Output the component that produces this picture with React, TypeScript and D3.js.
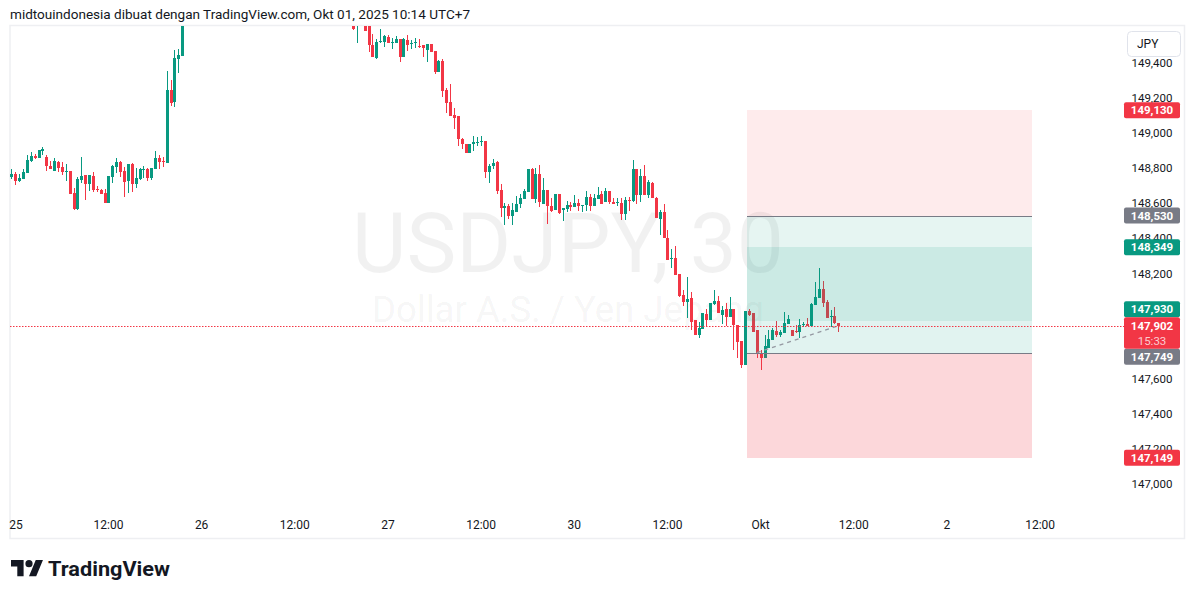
import React from 'react';
import * as d3 from 'd3';

const headerText = 'midtouindonesia dibuat dengan TradingView.com, Okt 01, 2025 10:14 UTC+7';
const symbolText = 'USDJPY, 30';
const symbolDesc = 'Dollar A.S. / Yen Jepang';
const currencyLabel = 'JPY';
const brandText = 'TradingView';

// bar index of the first candle in the list
const firstBarIndex = -1;
// [open, high, low, close]
const candles: [number, number, number, number][] = [
  [148.751, 148.795, 148.738, 148.770],
  [148.768, 148.776, 148.705, 148.728],
  [148.726, 148.768, 148.721, 148.743],
  [148.739, 148.795, 148.739, 148.778],
  [148.774, 148.876, 148.774, 148.846],
  [148.840, 148.893, 148.836, 148.869],
  [148.871, 148.880, 148.852, 148.859],
  [148.859, 148.904, 148.859, 148.903],
  [148.897, 148.922, 148.874, 148.909],
  [148.865, 148.874, 148.785, 148.814],
  [148.814, 148.842, 148.796, 148.796],
  [148.785, 148.856, 148.785, 148.840],
  [148.836, 148.842, 148.776, 148.804],
  [148.808, 148.836, 148.761, 148.778],
  [148.779, 148.823, 148.728, 148.785],
  [148.783, 148.784, 148.654, 148.654],
  [148.660, 148.688, 148.563, 148.567],
  [148.567, 148.751, 148.563, 148.738],
  [148.734, 148.865, 148.717, 148.755],
  [148.759, 148.762, 148.618, 148.711],
  [148.711, 148.762, 148.671, 148.759],
  [148.755, 148.778, 148.665, 148.675],
  [148.679, 148.698, 148.664, 148.675],
  [148.675, 148.682, 148.654, 148.654],
  [148.660, 148.682, 148.603, 148.603],
  [148.603, 148.756, 148.603, 148.755],
  [148.751, 148.819, 148.717, 148.812],
  [148.808, 148.861, 148.774, 148.835],
  [148.835, 148.840, 148.751, 148.778],
  [148.783, 148.808, 148.637, 148.721],
  [148.728, 148.827, 148.660, 148.823],
  [148.825, 148.829, 148.665, 148.711],
  [148.711, 148.802, 148.688, 148.743],
  [148.739, 148.802, 148.732, 148.796],
  [148.791, 148.814, 148.745, 148.795],
  [148.795, 148.800, 148.728, 148.745],
  [148.745, 148.801, 148.734, 148.800],
  [148.796, 148.897, 148.796, 148.859],
  [148.859, 148.873, 148.796, 148.836],
  [148.840, 148.865, 148.808, 148.836],
  [148.831, 149.355, 148.831, 149.245],
  [149.245, 149.302, 149.155, 149.173],
  [149.178, 149.473, 149.150, 149.427],
  [149.422, 149.479, 149.344, 149.445],
  [149.441, 149.700, 149.441, 149.660],
  [149.660, 149.780, 149.640, 149.750],
  [149.750, 149.840, 149.720, 149.800],
  [149.800, 149.860, 149.760, 149.780],
  [149.780, 149.820, 149.700, 149.720],
  [149.720, 149.790, 149.680, 149.770],
  [149.770, 149.850, 149.750, 149.830],
  [149.830, 149.880, 149.790, 149.810],
  [149.810, 149.840, 149.740, 149.760],
  [149.760, 149.800, 149.710, 149.790],
  [149.790, 149.870, 149.770, 149.850],
  [149.850, 149.920, 149.820, 149.900],
  [149.900, 149.950, 149.860, 149.880],
  [149.880, 149.910, 149.830, 149.850],
  [149.850, 149.890, 149.800, 149.820],
  [149.820, 149.860, 149.780, 149.840],
  [149.840, 149.900, 149.810, 149.870],
  [149.870, 149.930, 149.840, 149.860],
  [149.860, 149.890, 149.800, 149.810],
  [149.810, 149.850, 149.760, 149.830],
  [149.830, 149.880, 149.790, 149.800],
  [149.800, 149.830, 149.740, 149.770],
  [149.770, 149.810, 149.720, 149.790],
  [149.790, 149.840, 149.760, 149.820],
  [149.820, 149.860, 149.780, 149.800],
  [149.800, 149.850, 149.770, 149.840],
  [149.840, 149.880, 149.800, 149.820],
  [149.820, 149.850, 149.750, 149.770],
  [149.770, 149.800, 149.710, 149.740],
  [149.740, 149.790, 149.700, 149.760],
  [149.760, 149.820, 149.730, 149.800],
  [149.800, 149.870, 149.780, 149.850],
  [149.850, 149.900, 149.810, 149.830],
  [149.830, 149.860, 149.770, 149.790],
  [149.790, 149.830, 149.740, 149.810],
  [149.810, 149.880, 149.790, 149.860],
  [149.860, 149.910, 149.820, 149.840],
  [149.840, 149.870, 149.780, 149.800],
  [149.800, 149.840, 149.750, 149.770],
  [149.770, 149.810, 149.720, 149.780],
  [149.780, 149.820, 149.740, 149.750],
  [149.750, 149.790, 149.690, 149.710],
  [149.710, 149.760, 149.670, 149.740],
  [149.740, 149.780, 149.680, 149.700],
  [149.700, 149.720, 149.589, 149.591],
  [149.630, 149.730, 149.515, 149.690],
  [149.690, 149.750, 149.640, 149.700],
  [149.700, 149.720, 149.583, 149.583],
  [149.610, 149.630, 149.463, 149.500],
  [149.502, 149.568, 149.435, 149.435],
  [149.427, 149.534, 149.423, 149.519],
  [149.519, 149.591, 149.515, 149.524],
  [149.520, 149.562, 149.492, 149.555],
  [149.549, 149.557, 149.515, 149.515],
  [149.515, 149.543, 149.480, 149.519],
  [149.515, 149.553, 149.515, 149.536],
  [149.537, 149.537, 149.406, 149.435],
  [149.435, 149.540, 149.435, 149.536],
  [149.530, 149.558, 149.467, 149.503],
  [149.509, 149.530, 149.477, 149.513],
  [149.515, 149.543, 149.483, 149.519],
  [149.498, 149.534, 149.484, 149.494],
  [149.500, 149.500, 149.435, 149.486],
  [149.475, 149.511, 149.406, 149.507],
  [149.507, 149.508, 149.462, 149.462],
  [149.469, 149.469, 149.336, 149.349],
  [149.349, 149.416, 149.349, 149.412],
  [149.412, 149.422, 149.207, 149.241],
  [149.245, 149.255, 149.116, 149.173],
  [149.177, 149.279, 149.099, 149.099],
  [149.102, 149.141, 149.021, 149.089],
  [149.097, 149.097, 148.926, 148.964],
  [148.966, 148.970, 148.907, 148.941],
  [148.941, 148.941, 148.888, 148.888],
  [148.888, 148.937, 148.888, 148.937],
  [148.936, 148.983, 148.899, 148.949],
  [148.947, 148.979, 148.926, 148.950],
  [148.950, 148.983, 148.926, 148.954],
  [148.954, 148.955, 148.745, 148.779],
  [148.779, 148.827, 148.717, 148.812],
  [148.812, 148.853, 148.793, 148.831],
  [148.833, 148.840, 148.656, 148.669],
  [148.675, 148.711, 148.523, 148.574],
  [148.574, 148.601, 148.477, 148.584],
  [148.584, 148.599, 148.508, 148.529],
  [148.529, 148.601, 148.477, 148.561],
  [148.551, 148.641, 148.551, 148.599],
  [148.597, 148.656, 148.576, 148.631],
  [148.624, 148.682, 148.624, 148.669],
  [148.665, 148.796, 148.665, 148.795],
  [148.795, 148.799, 148.625, 148.625],
  [148.625, 148.799, 148.603, 148.768],
  [148.768, 148.819, 148.580, 148.605],
  [148.599, 148.742, 148.599, 148.677],
  [148.675, 148.676, 148.483, 148.582],
  [148.582, 148.631, 148.548, 148.554],
  [148.561, 148.653, 148.561, 148.652],
  [148.652, 148.653, 148.542, 148.546],
  [148.561, 148.575, 148.500, 148.574],
  [148.568, 148.614, 148.550, 148.591],
  [148.591, 148.605, 148.554, 148.580],
  [148.580, 148.650, 148.580, 148.603],
  [148.601, 148.622, 148.555, 148.584],
  [148.588, 148.592, 148.551, 148.591],
  [148.588, 148.668, 148.559, 148.635],
  [148.635, 148.656, 148.559, 148.586],
  [148.584, 148.656, 148.584, 148.629],
  [148.625, 148.692, 148.625, 148.647],
  [148.652, 148.673, 148.597, 148.599],
  [148.608, 148.690, 148.608, 148.669],
  [148.668, 148.669, 148.597, 148.605],
  [148.608, 148.631, 148.597, 148.597],
  [148.601, 148.629, 148.586, 148.605],
  [148.603, 148.628, 148.504, 148.542],
  [148.538, 148.637, 148.504, 148.618],
  [148.618, 148.637, 148.555, 148.614],
  [148.614, 148.846, 148.608, 148.795],
  [148.795, 148.796, 148.599, 148.647],
  [148.647, 148.795, 148.605, 148.755],
  [148.755, 148.816, 148.645, 148.645],
  [148.647, 148.732, 148.628, 148.721],
  [148.717, 148.722, 148.628, 148.633],
  [148.633, 148.634, 148.517, 148.517],
  [148.510, 148.561, 148.419, 148.551],
  [148.551, 148.599, 148.400, 148.400],
  [148.405, 148.447, 148.276, 148.276],
  [148.286, 148.339, 148.232, 148.289],
  [148.288, 148.356, 148.192, 148.192],
  [148.196, 148.197, 148.067, 148.073],
  [148.077, 148.105, 148.014, 148.038],
  [148.038, 148.181, 147.944, 148.054],
  [148.058, 148.095, 147.877, 147.924],
  [147.934, 147.935, 147.849, 147.849],
  [147.849, 147.924, 147.835, 147.887],
  [147.883, 147.977, 147.882, 147.976],
  [147.968, 147.997, 147.896, 147.934],
  [147.934, 148.030, 147.934, 148.029],
  [148.025, 148.105, 148.020, 148.042],
  [148.042, 148.073, 147.972, 147.972],
  [147.963, 148.014, 147.911, 147.991],
  [147.997, 148.029, 147.900, 147.953],
  [147.953, 148.067, 147.953, 147.997],
  [147.997, 147.998, 147.763, 147.906],
  [147.906, 147.907, 147.716, 147.810],
  [147.814, 147.815, 147.659, 147.677],
  [147.677, 147.986, 147.677, 147.985],
  [147.985, 147.995, 147.959, 147.963],
  [147.972, 147.973, 147.867, 147.867],
  [147.877, 147.878, 147.716, 147.744],
  [147.748, 147.763, 147.649, 147.716],
  [147.716, 147.849, 147.716, 147.786],
  [147.778, 147.877, 147.778, 147.826],
  [147.820, 147.887, 147.820, 147.877],
  [147.871, 147.930, 147.839, 147.849],
  [147.849, 147.877, 147.839, 147.867],
  [147.862, 147.982, 147.862, 147.915],
  [147.911, 147.963, 147.911, 147.940],
  [147.877, 147.878, 147.843, 147.843],
  [147.873, 147.906, 147.862, 147.867],
  [147.867, 147.938, 147.830, 147.906],
  [147.906, 147.923, 147.896, 147.913],
  [147.911, 147.949, 147.900, 147.900],
  [147.900, 148.033, 147.900, 148.025],
  [148.020, 148.152, 148.020, 148.067],
  [148.061, 148.229, 148.061, 148.109],
  [148.109, 148.158, 148.010, 148.033],
  [148.035, 148.048, 147.944, 147.944],
  [147.950, 147.991, 147.896, 147.957],
  [147.957, 148.010, 147.911, 147.915],
  [147.919, 147.920, 147.867, 147.902],
];

const timeTicks: { bar: number; label: string }[] = [
  { bar: 0, label: '25' },
  { bar: 24, label: '12:00' },
  { bar: 48, label: '26' },
  { bar: 72, label: '12:00' },
  { bar: 96, label: '27' },
  { bar: 120, label: '12:00' },
  { bar: 144, label: '30' },
  { bar: 168, label: '12:00' },
  { bar: 192, label: 'Okt' },
  { bar: 216, label: '12:00' },
  { bar: 240, label: '2' },
  { bar: 264, label: '12:00' },
];
const priceTicks = [147.0, 147.2, 147.4, 147.6, 147.8, 148.0, 148.2, 148.4, 148.6, 148.8, 149.0, 149.2, 149.4];

const currentPrice = 147.902;
const countdownText = '15:33';
const shortEntry = 148.530;
const shortStop = 149.130;
const shortTarget = 147.930;
const longEntry = 147.749;
const longStop = 147.149;
const longTarget = 148.349;
const positionStartBar = 188.6;
const positionEndBar = 262;
const trendStartBar = 191;

const GREEN = '#089981';
const RED = '#f23645';
const GRAY = '#787b86';
const TEXT = '#131722';

const locale = d3.formatLocale({ decimal: ',', thousands: '.', grouping: [3], currency: ['', ''] });
const fmt = locale.format('.3f');

export default function App() {
  const W = 1195;
  const H = 598;
  const plotLeft = 10;
  const plotRight = 1122;
  const plotTop = 26;
  const plotBottom = 505;

  const x = d3.scaleLinear().domain([0, 264]).range([15.3, 15.3 + 264 * 3.882]);
  const y = d3.scaleLinear().domain([147.0, 149.4]).range([484, 63]);

  const font = 'Roboto, "Noto Sans", sans-serif';

  // price-axis labels with simple collision handling around current price
  const curY = y(currentPrice);
  const curTop = curY - 8.5;
  const curBot = curY + 23;
  const markers = [
    { v: shortStop, color: RED },
    { v: shortEntry, color: GRAY },
    { v: longTarget, color: GREEN },
    { v: shortTarget, color: GREEN },
    { v: longEntry, color: GRAY },
    { v: longStop, color: RED },
  ].map((m) => {
    let cy = y(m.v);
    if (cy + 8 > curTop && cy - 8 < curBot) {
      cy = cy < curY ? curTop - 8 : curBot + 8;
    }
    return { ...m, cy };
  });

  // ticks whose label is entirely hidden behind a marker box are skipped
  const visibleTicks = priceTicks.filter((p) => {
    const ty = y(p);
    if (ty > curTop - 2 && ty < curBot + 2) return false;
    return !markers.some((m) => Math.abs(m.cy - ty) < 3);
  });

  const candleEls = candles.map((c, k) => {
    const [o, h, l, cl] = c;
    const bar = firstBarIndex + k;
    const cx = Math.round(x(bar));
    const up = cl >= o;
    const color = up ? GREEN : RED;
    const bTop = Math.round(y(Math.max(o, cl)));
    const bBot = Math.round(y(Math.min(o, cl)));
    const wTop = Math.round(y(h));
    const wBot = Math.round(y(l));
    return (
      <g key={k} fill={color}>
        <rect x={cx} y={wTop} width={1} height={Math.max(1, wBot - wTop)} />
        <rect x={cx - 1} y={bTop} width={3} height={Math.max(1, bBot - bTop)} />
      </g>
    );
  });

  const zx0 = x(positionStartBar);
  const zx1 = x(positionEndBar);
  const zone = (a: number, b: number, fill: string, op: number) => (
    <rect x={zx0} y={Math.min(y(a), y(b))} width={zx1 - zx0} height={Math.abs(y(a) - y(b))} fill={fill} fillOpacity={op} />
  );

  const lastBar = firstBarIndex + candles.length - 1;

  return (
    <div style={{ position: 'fixed', left: 0, top: 0, width: W, height: H, background: '#fff' }}>
      <svg width={W} height={H} viewBox={`0 0 ${W} ${H}`} style={{ display: 'block' }} fontFamily={font}>
        <defs>
          <clipPath id="plotClip">
            <rect x={plotLeft} y={plotTop} width={plotRight - plotLeft} height={plotBottom - plotTop} />
          </clipPath>
        </defs>
        <rect x={0} y={0} width={W} height={H} fill="#ffffff" />
        <text x={10} y={19} fontSize={13} fill={TEXT} textLength={460} lengthAdjust="spacingAndGlyphs">
          {headerText}
        </text>

        {/* frame */}
        <rect x={10} y={25.5} width={1174.5} height={513} fill="none" stroke="#eeeff2" strokeWidth={1.5} />

        {/* watermark */}
        <text x={568} y={272} fontSize={83} fill="#000" fillOpacity={0.055} textAnchor="middle" textLength={432} lengthAdjust="spacingAndGlyphs">
          {symbolText}
        </text>
        <text x={568} y={322} fontSize={36} fill="#000" fillOpacity={0.055} textAnchor="middle" textLength={392} lengthAdjust="spacingAndGlyphs">
          {symbolDesc}
        </text>

        <g clipPath="url(#plotClip)" shapeRendering="crispEdges">
          {candleEls}
        </g>

        {/* position tools */}
        <g shapeRendering="crispEdges">
          {zone(shortStop, shortEntry, RED, 0.1)}
          {zone(shortEntry, shortTarget, GREEN, 0.1)}
          {zone(longEntry, longTarget, GREEN, 0.12)}
          {zone(longEntry, longStop, RED, 0.2)}
          <line x1={zx0} x2={zx1} y1={Math.round(y(shortEntry)) + 0.5} y2={Math.round(y(shortEntry)) + 0.5} stroke={GRAY} strokeWidth={1.5} />
          <line x1={zx0} x2={zx1} y1={Math.round(y(longEntry)) + 0.5} y2={Math.round(y(longEntry)) + 0.5} stroke={GRAY} strokeWidth={1.5} />
        </g>
        <line
          x1={x(trendStartBar)}
          y1={y(longEntry)}
          x2={x(lastBar)}
          y2={y(currentPrice)}
          stroke="#9598a1"
          strokeWidth={1.3}
          strokeDasharray="4 4"
        />

        {/* current price line */}
        <line x1={plotLeft} x2={1124} y1={Math.round(curY) + 0.5} y2={Math.round(curY) + 0.5} stroke={RED} strokeWidth={1} strokeDasharray="1.5 1.5" />

        {/* price axis ticks */}
        <g fontSize={11.5} fill={TEXT}>
          {visibleTicks.map((p) => (
            <text key={p} x={1152} y={y(p) + 4} textAnchor="middle">
              {fmt(p)}
            </text>
          ))}
        </g>

        {/* JPY button */}
        <rect x={1127.5} y={31.5} width={53} height={25} rx={4} fill="#fff" stroke="#e0e3eb" />
        <text x={1137} y={48} fontSize={12} fill={TEXT}>
          {currencyLabel}
        </text>

        {/* price markers */}
        {markers.map((m, k) => (
          <g key={k}>
            <rect x={1124} y={m.cy - 8} width={56} height={16} rx={2} fill={m.color} />
            <text x={1152} y={m.cy + 4} fontSize={11.5} fontWeight={700} fill="#fff" textAnchor="middle">
              {fmt(m.v)}
            </text>
          </g>
        ))}
        <rect x={1124} y={curTop} width={56} height={curBot - curTop} rx={2} fill={RED} />
        <text x={1152} y={curY + 4} fontSize={11.5} fontWeight={700} fill="#fff" textAnchor="middle">
          {fmt(currentPrice)}
        </text>
        <text x={1152} y={curY + 19} fontSize={11.5} fill="#fff" fillOpacity={0.75} textAnchor="middle">
          {countdownText}
        </text>

        {/* time axis */}
        <g fontSize={12} fill={TEXT}>
          {timeTicks.map((t) => (
            <text key={t.bar} x={Math.max(x(t.bar), 16)} y={529} textAnchor="middle">
              {t.label}
            </text>
          ))}
        </g>

        {/* brand */}
        <g transform="translate(11,556.5) scale(0.9)" fill={TEXT}>
          <path d="M14 22H7V11H0V4h14v18zM28 22h-8l7.5-18h8L28 22z" />
          <circle cx={20} cy={8} r={4} />
        </g>
        <text x={48} y={576} fontSize={21} fontWeight={700} fill={TEXT} textLength={122} lengthAdjust="spacingAndGlyphs">
          {brandText}
        </text>
      </svg>
    </div>
  );
}
